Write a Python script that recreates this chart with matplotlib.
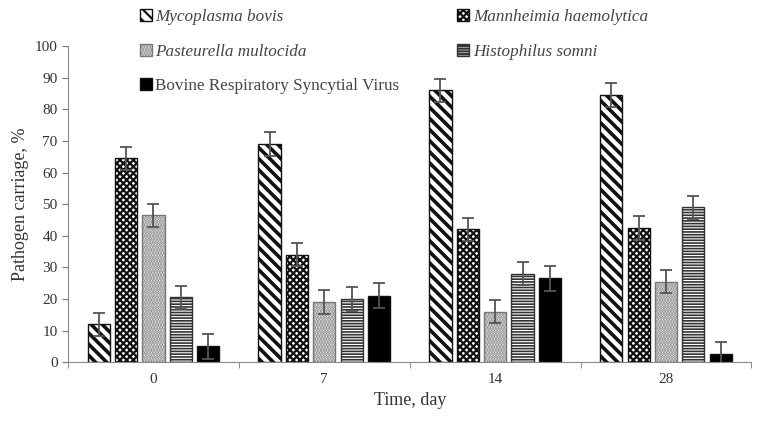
import matplotlib.pyplot as plt
import numpy as np

plt.rcParams['font.family'] = ['Liberation Serif', 'DejaVu Serif']
plt.rcParams['hatch.linewidth'] = 1.6

days = ["0", "7", "14", "28"]
pathogens = ["Mycoplasma bovis", "Mannheimia haemolytica", "Pasteurella multocida",
             "Histophilus somni", "Bovine Respiratory Syncytial Virus"]
mb = [12, 69, 86, 84.5]
mh = [64.5, 34, 42, 42.5]
pm = [46.5, 19, 16, 25.5]
hs = [20.5, 20, 28, 49]
brsv = [5, 21, 26.5, 2.5]
mb_err = [3.7, 3.7, 3.7, 3.7]
mh_err = [3.7, 3.7, 3.7, 3.7]
pm_err = [3.7, 3.7, 3.7, 3.7]
hs_err = [3.7, 3.7, 3.7, 3.7]
brsv_err = [4, 4, 4, 4]

values = [mb, mh, pm, hs, brsv]
errors = [mb_err, mh_err, pm_err, hs_err, brsv_err]
hatches = ["\\\\\\", "xxxxx", "......", "------", ""]
hatch_lw = [2.6, 1.6, 1.6, 1.2, 1.0]
faces = ["white", "white", "white", "white", "black"]
edges = ["#111111", "#111111", "#777777", "#333333", "#111111"]

fig = plt.figure(figsize=(7.68, 4.24), dpi=100)
ax = fig.add_axes([0.0885, 0.146, 0.89, 0.745])

x = np.arange(len(days))
w = 0.13
step = 0.16
handles = []
for i in range(5):
    pos = x + (i - 2) * step
    b = ax.bar(pos, values[i], w, color=faces[i], edgecolor=edges[i], hatch=hatches[i],
               linewidth=1.0, label=pathogens[i])
    for p in b.patches:
        if hasattr(p, "set_hatch_linewidth"):
            p.set_hatch_linewidth(hatch_lw[i])
    ax.errorbar(pos, values[i], yerr=errors[i], fmt="none", ecolor="#555555",
                elinewidth=1.3, capsize=4, capthick=1.3)
    handles.append(b)

ax.set_xlim(-0.5, 3.5)
ax.set_ylim(0, 100)
ax.set_yticks(range(0, 101, 10))
ax.set_xticks(x)
ax.set_xticklabels(days)
ax.set_xticks(np.arange(-0.5, 3.6, 1), minor=True)
ax.tick_params(axis="x", which="major", length=0, labelsize=11, colors="#333333", pad=8)
ax.tick_params(axis="x", which="minor", length=4, color="#777777")
ax.tick_params(axis="y", length=4, color="#777777", labelsize=11, labelcolor="#333333")
for s in ["top", "right"]:
    ax.spines[s].set_visible(False)
for s in ["left", "bottom"]:
    ax.spines[s].set_color("#888888")
ax.set_xlabel("Time, day", fontsize=13, color="#333333")
ax.set_ylabel("Pathogen carriage, %", fontsize=13, color="#333333")

order = [0, 2, 4, 1, 3]
leg = fig.legend([handles[k] for k in order], [pathogens[k] for k in order], ncol=2,
                 loc="upper left", bbox_to_anchor=(0.162, 1.014), frameon=False,
                 fontsize=12.3, handlelength=0.7, handleheight=0.7, handletextpad=0.2,
                 columnspacing=3.4, labelspacing=1.08)
for k, t in zip(order, leg.get_texts()):
    t.set_color("#444444")
    if k != 4:
        t.set_fontstyle("italic")

fig.savefig("out.png", dpi=100)
